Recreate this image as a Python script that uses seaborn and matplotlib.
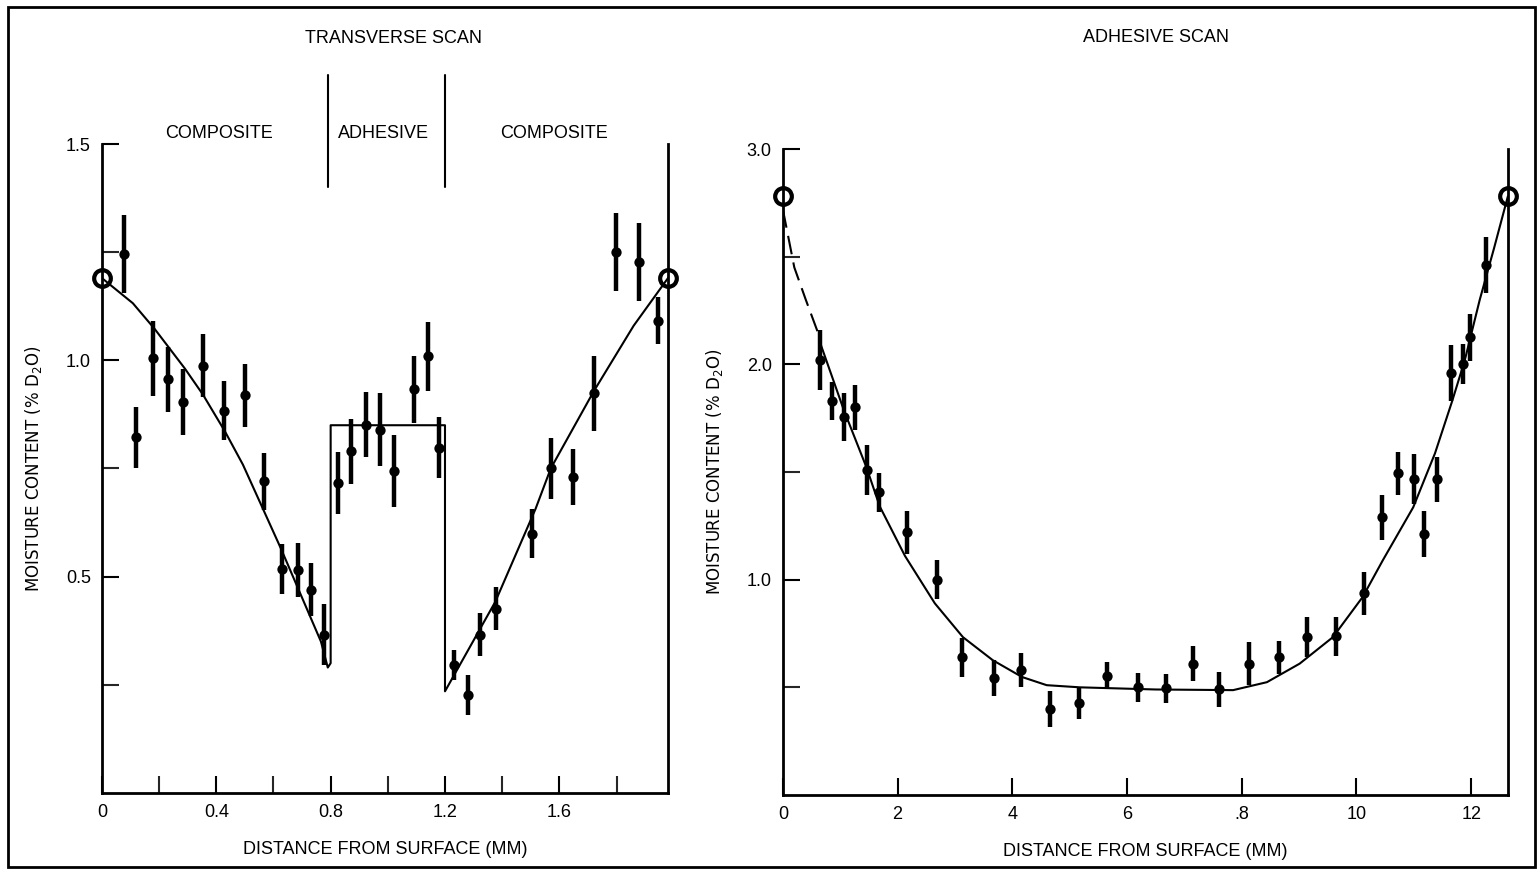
import matplotlib
matplotlib.use("Agg")
import matplotlib.pyplot as plt
from matplotlib.patches import Rectangle
import numpy as np
import pandas as pd
import seaborn as sns

# ---- transverse scan (left panel) ----
trans_x = [0.077, 0.12, 0.18, 0.23, 0.283, 0.353, 0.428, 0.50, 0.567, 0.631, 0.686, 0.731, 0.778,
           0.826, 0.872, 0.922, 0.971, 1.022, 1.093, 1.142, 1.18,
           1.231, 1.28, 1.321, 1.38, 1.506, 1.57, 1.647, 1.72, 1.797, 1.878, 1.945]
trans_y = [1.246, 0.822, 1.005, 0.956, 0.903, 0.988, 0.884, 0.919, 0.72, 0.518, 0.516, 0.47, 0.366,
           0.717, 0.79, 0.851, 0.84, 0.745, 0.933, 1.009, 0.798,
           0.296, 0.227, 0.366, 0.426, 0.599, 0.75, 0.73, 0.924, 1.25, 1.227, 1.092]
trans_err = [0.09, 0.07, 0.087, 0.075, 0.076, 0.073, 0.068, 0.072, 0.066, 0.057, 0.062, 0.062, 0.07,
             0.072, 0.075, 0.075, 0.085, 0.083, 0.078, 0.08, 0.07,
             0.035, 0.046, 0.05, 0.05, 0.057, 0.07, 0.064, 0.087, 0.09, 0.09, 0.055]

# fitted profile: composite / adhesive step / composite
trans_fit_x = [0, 0.108, 0.185, 0.29, 0.353, 0.43, 0.493, 0.563, 0.626, 0.766, 0.79, 0.80, 0.80,
               1.20, 1.20, 1.376, 1.517, 1.57, 1.72, 1.86, 1.98]
trans_fit_y = [1.19, 1.132, 1.072, 0.981, 0.921, 0.836, 0.759, 0.657, 0.565, 0.35, 0.29, 0.30,
               0.85, 0.85, 0.235, 0.442, 0.657, 0.75, 0.928, 1.08, 1.19]
trans_ends_x = [0, 1.98]
trans_ends_y = [1.19, 1.19]
trans_xticks = [0, 0.4, 0.8, 1.2, 1.6]
trans_xticklabels = ["0", "0.4", "0.8", "1.2", "1.6"]
trans_yticks = [0.5, 1.0, 1.5]
trans_yticklabels = ["0.5", "1.0", "1.5"]
trans_regions = ["COMPOSITE", "ADHESIVE", "COMPOSITE"]
trans_region_x = [0.41, 0.985, 1.58]
trans_bounds = [0.79, 1.20]

# ---- adhesive scan (right panel) ----
adh_x = [0.65, 0.86, 1.07, 1.26, 1.47, 1.675, 2.16, 2.69, 3.12, 3.68, 4.16, 4.66, 5.17, 5.66,
         6.19, 6.68, 7.15, 7.61, 8.13, 8.65, 9.13, 9.64, 10.13, 10.45, 10.72, 11.0, 11.18,
         11.41, 11.65, 11.86, 11.98, 12.26]
adh_y = [2.02, 1.83, 1.755, 1.80, 1.51, 1.406, 1.22, 1.0, 0.64, 0.543, 0.58, 0.40, 0.427, 0.553,
         0.50, 0.496, 0.61, 0.49, 0.61, 0.64, 0.733, 0.737, 0.937, 1.29, 1.494, 1.466, 1.21,
         1.466, 1.96, 2.0, 2.125, 2.46]
adh_err = [0.14, 0.09, 0.11, 0.105, 0.115, 0.09, 0.1, 0.09, 0.09, 0.085, 0.08, 0.085, 0.072, 0.063,
           0.066, 0.067, 0.081, 0.08, 0.1, 0.077, 0.093, 0.09, 0.1, 0.105, 0.1, 0.116, 0.107,
           0.104, 0.13, 0.093, 0.11, 0.13]
adh_dash_x = [0, 0.2, 0.4, 0.65]
adh_dash_y = [2.72, 2.45, 2.30, 2.12]
adh_fit_x = [0.65, 1.06, 1.46, 1.69, 2.13, 2.65, 3.14, 3.66, 4.17, 4.6, 5.18, 6.5, 7.85, 8.44,
             9.01, 9.59, 10.11, 10.46, 10.99, 11.37, 11.67, 11.89, 12.15, 12.40, 12.64]
adh_fit_y = [2.10, 1.79, 1.52, 1.34, 1.11, 0.89, 0.733, 0.626, 0.548, 0.51, 0.50, 0.49, 0.487,
             0.524, 0.61, 0.733, 0.92, 1.09, 1.336, 1.587, 1.83, 2.02, 2.30, 2.54, 2.78]
adh_ends_x = [0, 12.64]
adh_ends_y = [2.78, 2.78]
adh_xticks = [0, 2, 4, 6, 8, 10, 12]
adh_xticklabels = ["0", "2", "4", "6", ".8", "10", "12"]
adh_yticks = [1.0, 2.0, 3.0]
adh_yticklabels = ["1.0", "2.0", "3.0"]

sns.set_theme(style="ticks")
plt.rcParams["font.family"] = ["Liberation Sans", "DejaVu Sans"]
plt.rcParams["text.color"] = "black"
plt.rcParams["axes.labelcolor"] = "black"

fig = plt.figure(figsize=(15.38, 8.77), dpi=100)
ax1 = fig.add_axes([0.0663, 0.0958, 0.368, 0.740])
ax2 = fig.add_axes([0.509, 0.0935, 0.4714, 0.7366])

fs = 13


def style_axes(ax, xmax, ymax, yminor):
    ax.set_xlim(0, xmax)
    ax.set_ylim(0, ymax)
    for side in ["left", "bottom", "right"]:
        ax.spines[side].set_linewidth(2)
        ax.spines[side].set_color("black")
    ax.spines["top"].set_visible(False)
    ax.tick_params(axis="both", direction="in", length=12, width=1.5, colors="black",
                   labelsize=fs, pad=8)
    ax.set_yticks(yminor, minor=True)
    ax.tick_params(axis="y", which="minor", direction="in", length=12, width=1.5)
    ax.set_ylabel("MOISTURE CONTENT (% D$_2$O)", fontsize=12, family="DejaVu Sans",
                  labelpad=16, color="black")
    ax.set_xlabel("DISTANCE FROM SURFACE (MM)", fontsize=fs, labelpad=14, color="black")
    ax.set_facecolor("white")


def draw_points(ax, xs, ys, errs):
    df = pd.DataFrame({"x": xs, "y": ys, "err": errs})
    ax.vlines(df["x"], df["y"] - df["err"], df["y"] + df["err"], color="black", lw=3.2)
    sns.scatterplot(data=df, x="x", y="y", ax=ax, color="black", s=55, edgecolor="black",
                    linewidth=0, zorder=4, legend=False)


# left panel
style_axes(ax1, 1.98, 1.5, [0.25, 0.75, 1.25])
ax1.set_xticks(trans_xticks, trans_xticklabels)
ax1.set_xticks(np.arange(0.2, 1.9, 0.2), minor=True)
ax1.tick_params(axis="x", which="minor", direction="in", length=12, width=1.5)
ax1.set_yticks(trans_yticks, trans_yticklabels)
sns.lineplot(x=trans_fit_x, y=trans_fit_y, sort=False, ax=ax1, color="black", lw=1.5,
             estimator=None)
draw_points(ax1, trans_x, trans_y, trans_err)
ax1.plot(trans_ends_x, trans_ends_y, "o", ms=12, mfc="none", mec="black", mew=3,
         clip_on=False, zorder=5)
for xb in trans_bounds:
    ax1.plot([xb, xb], [1.40, 1.66], color="black", lw=1.5, clip_on=False)
for name, xr in zip(trans_regions, trans_region_x):
    ax1.text(xr, 1.525, name, ha="center", va="center", fontsize=fs)
ax1.text(1.02, 1.745, "TRANSVERSE SCAN", ha="center", va="center", fontsize=fs)

# right panel
style_axes(ax2, 12.64, 3.0, [0.5, 1.5, 2.5])
ax2.set_xticks(adh_xticks, adh_xticklabels)
ax2.set_yticks(adh_yticks, adh_yticklabels)
sns.lineplot(x=adh_dash_x, y=adh_dash_y, sort=False, ax=ax2, color="black", lw=1.5,
             estimator=None, dashes=False, linestyle=(0, (9, 4)))
sns.lineplot(x=adh_fit_x, y=adh_fit_y, sort=False, ax=ax2, color="black", lw=1.5,
             estimator=None)
draw_points(ax2, adh_x, adh_y, adh_err)
ax2.plot(adh_ends_x, adh_ends_y, "o", ms=12, mfc="none", mec="black", mew=3,
         clip_on=False, zorder=5)
ax2.text(6.5, 3.52, "ADHESIVE SCAN", ha="center", va="center", fontsize=fs)

# frame around the whole figure
fig.add_artist(Rectangle((0.0052, 0.0114), 0.9928, 0.9806, transform=fig.transFigure,
                         fill=False, lw=2, edgecolor="black"))

fig.savefig("out.png", dpi=100, facecolor="white")
